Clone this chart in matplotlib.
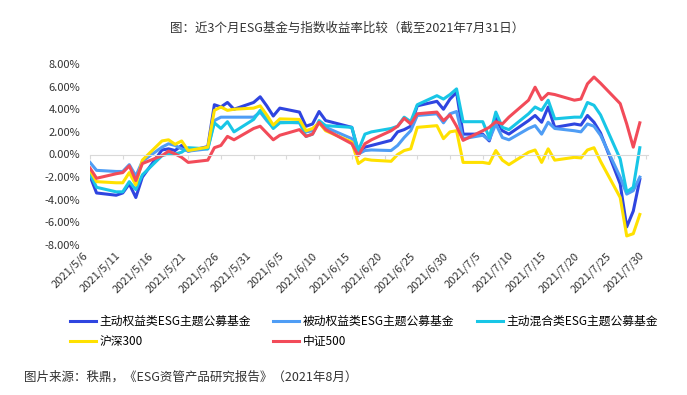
import matplotlib
matplotlib.use("Agg")
import matplotlib.pyplot as plt
import pandas as pd

plt.rcParams["font.family"] = ["Noto Sans CJK SC", "DejaVu Sans"]

# trading days shown in the chart
dates = [
    "2021-05-06", "2021-05-07", "2021-05-10", "2021-05-11", "2021-05-12", "2021-05-13", "2021-05-14",
    "2021-05-17", "2021-05-18", "2021-05-19", "2021-05-20", "2021-05-21",
    "2021-05-24", "2021-05-25", "2021-05-26", "2021-05-27", "2021-05-28",
    "2021-05-31", "2021-06-01", "2021-06-02", "2021-06-03", "2021-06-04",
    "2021-06-07", "2021-06-08", "2021-06-09", "2021-06-10", "2021-06-11",
    "2021-06-15", "2021-06-16", "2021-06-17", "2021-06-18",
    "2021-06-21", "2021-06-22", "2021-06-23", "2021-06-24", "2021-06-25",
    "2021-06-28", "2021-06-29", "2021-06-30", "2021-07-01", "2021-07-02",
    "2021-07-05", "2021-07-06", "2021-07-07", "2021-07-08", "2021-07-09",
    "2021-07-12", "2021-07-13", "2021-07-14", "2021-07-15", "2021-07-16",
    "2021-07-19", "2021-07-20", "2021-07-21", "2021-07-22", "2021-07-23",
    "2021-07-26", "2021-07-27", "2021-07-28", "2021-07-29",
]

# returns in %
active_equity = [
    -1.9, -3.4, -3.6, -3.4, -2.6, -3.8, -2.0,
    0.4, 0.5, 0.35, 0.8, 0.3,
    0.7, 4.4, 4.2, 4.6, 4.0,
    4.6, 5.1, 4.3, 3.4, 4.1,
    3.75, 2.5, 2.7, 3.8, 3.0,
    2.4, 0.2, 0.65, 0.8,
    1.25, 2.0, 2.2, 2.5, 4.3,
    4.7, 4.0, 4.9, 5.5, 1.8,
    1.8, 1.2, 3.2, 2.1, 1.8,
    3.0, 3.45, 2.85, 4.2, 2.4,
    2.7, 2.6, 3.45, 2.85, 1.9,
    -2.6, -6.4, -5.0, -2.2,
]
passive_equity = [
    -0.7, -1.4, -1.5, -1.5, -0.9, -1.9, -0.6,
    0.65, 0.95, 0.8, 0.5, 0.3,
    0.5, 3.0, 3.3, 3.3, 3.3,
    3.3, 3.75, 3.0, 2.4, 2.85,
    2.8, 2.0, 2.1, 2.85, 2.4,
    1.4, 0.05, 0.35, 0.4,
    0.35, 0.8, 1.5, 2.1, 3.45,
    3.6, 2.8, 3.6, 3.8, 1.4,
    1.7, 1.3, 2.7, 1.5, 1.3,
    2.3, 2.55, 1.8, 2.85, 2.3,
    2.1, 2.0, 2.7, 2.5, 1.7,
    -2.0, -3.5, -3.2, -2.0,
]
active_mixed = [
    -1.7, -2.9, -3.3, -3.3, -2.4, -3.1, -1.8,
    -0.1, 0.05, 0.05, 0.2, 0.6,
    0.5, 2.8, 2.3, 2.9, 2.0,
    3.1, 3.9, 3.1, 2.3, 2.8,
    2.85, 1.6, 1.8, 3.0, 2.55,
    2.4, 0.35, 1.8, 2.0,
    2.3, 2.5, 3.3, 2.9, 4.4,
    5.2, 4.9, 5.3, 5.8, 2.9,
    2.9, 1.5, 3.75, 2.4, 2.2,
    3.6, 4.2, 3.9, 4.8, 3.15,
    3.3, 3.3, 4.6, 4.35, 3.5,
    -0.4, -3.3, -2.9, 0.6,
]
hs300 = [
    -1.4, -2.4, -2.5, -2.5, -1.6, -2.7, -0.5,
    1.2, 1.3, 0.9, 1.2, 0.35,
    0.65, 3.9, 4.2, 3.9, 4.0,
    4.1, 4.3, 3.5, 2.6, 3.15,
    3.1, 2.1, 2.3, 2.8, 2.1,
    1.1, -0.8, -0.4, -0.5,
    -0.6, 0.0, 0.35, 0.5, 2.4,
    2.55, 1.4, 2.0, 2.1, -0.7,
    -0.7, -0.8, 0.35, -0.5, -0.9,
    0.2, 0.4, -0.7, 0.5, -0.5,
    -0.25, -0.3, 0.4, 0.6, -0.6,
    -3.8, -7.2, -7.0, -5.3,
]
zz500 = [
    -1.2, -2.1, -1.7, -1.6, -1.0, -2.3, -0.8,
    -0.1, 0.3, 0.05, -0.25, -0.7,
    -0.5, 0.6, 0.8, 1.6, 1.3,
    2.3, 2.5, 1.9, 1.3, 1.7,
    2.2, 1.6, 1.8, 2.85, 2.2,
    0.95, -0.1, 0.95, 1.3,
    2.1, 2.5, 3.2, 2.7, 3.6,
    3.75, 3.0, 3.5, 2.5, 1.25,
    2.1, 2.4, 2.9, 2.7, 3.3,
    4.8, 5.95, 4.85, 5.4, 5.3,
    4.8, 4.9, 6.25, 6.85, 6.3,
    4.5, 2.7, 0.65, 2.8,
]

labels = ["主动权益类ESG主题公募基金", "被动权益类ESG主题公募基金", "主动混合类ESG主题公募基金", "沪深300", "中证500"]
colors = ["#2f45e0", "#4f9df5", "#18c6e6", "#ffe100", "#f24b59"]
yticks = [-8, -6, -4, -2, 0, 2, 4, 6, 8]

title = "图：近3个月ESG基金与指数收益率比较（截至2021年7月31日）"
source = "图片来源：秩鼎，《ESG资管产品研究报告》（2021年8月）"

fig = plt.figure(figsize=(6.87, 3.95), dpi=100)
ax = fig.add_axes([90 / 687, 1 - 245 / 395, 558 / 687, 181 / 395])

# axis line sits at zero; set this before ticks since it resets them
for s in ["left", "right", "top"]:
    ax.spines[s].set_visible(False)
ax.spines["bottom"].set_position(("data", 0))
ax.spines["bottom"].set_color("#d9d9d9")

x = pd.to_datetime(dates)
lines = []
for vals, c, lab in zip([active_equity, passive_equity, active_mixed, hs300, zz500], colors, labels):
    ln, = ax.plot(x, vals, color=c, lw=2.2, label=lab)
    lines.append(ln)

ax.set_ylim(-8, 8)
ax.set_yticks(yticks)
ax.set_yticklabels([f"{v:.2f}%" for v in yticks])

ticks = pd.date_range("2021-05-06", "2021-07-30", freq="5D")
ax.set_xlim(ticks[0], ticks[-1] + pd.Timedelta(hours=6))
ax.set_xticks(ticks)
ax.set_xticklabels([f"{d.year}/{d.month}/{d.day}" for d in ticks])
ax.tick_params(axis="x", length=3, color="#d9d9d9", pad=66, labelsize=8,
               labelcolor="#333333", labelrotation=45)
for lbl in ax.get_xticklabels():
    lbl.set_ha("right")
ax.tick_params(axis="y", length=0, pad=7, labelsize=8, labelcolor="#333333")

# legend fills by column, so reorder to get row-wise layout
order = [0, 3, 1, 4, 2]
fig.legend([lines[i] for i in order], [labels[i] for i in order], ncol=3,
           loc="upper left", bbox_to_anchor=(70 / 687, 1 - 315 / 395), frameon=False,
           fontsize=8.5, handlelength=2.2, handletextpad=0.3, columnspacing=1.9,
           labelspacing=0.6, borderpad=0, borderaxespad=0)

fig.text(347 / 687, 1 - 28 / 395, title, ha="center", va="center", fontsize=9, color="#333333")
fig.text(24 / 687, 1 - 377 / 395, source, ha="left", va="center", fontsize=9, color="#333333")

fig.savefig("out.png", dpi=100, facecolor="white")
